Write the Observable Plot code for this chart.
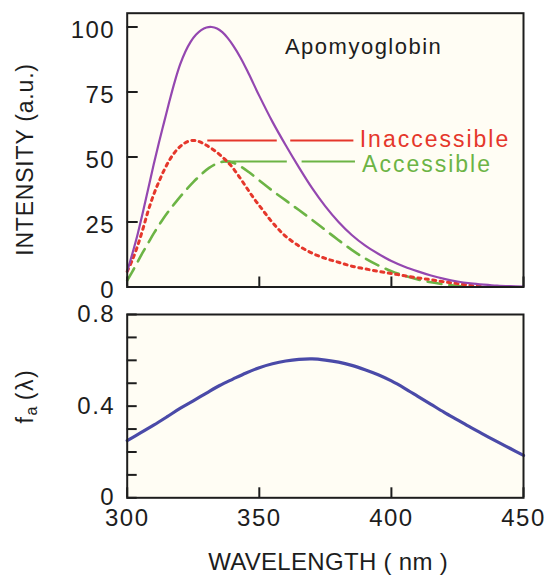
<!DOCTYPE html>
<html>
<head>
<meta charset="utf-8">
<script src="https://cdn.jsdelivr.net/npm/d3@7"></script>
<script src="https://cdn.jsdelivr.net/npm/@observablehq/plot@0.6"></script>
<style>
  html, body { margin: 0; padding: 0; background: #ffffff; }
  #chart { position: relative; width: 545px; height: 575px; }
  #chart svg { position: absolute; left: 0; display: block; }
</style>
</head>
<body>
<div id="chart"></div>
<script>
// ---------- data ----------
const totalWavelength = [300,302,304,306,308,310,312,314,316,318,320,322,324,326,328,330,332,334,336,338,340,343,346,350,355,360,365,370,375,380,385,390,395,400,405,410,415,420,425,430,435,440,445,450];
const totalIntensity  = [6,13,20.5,29,38,47,55.5,63.5,71.5,79,85.5,90.5,94.3,97,98.8,99.8,100,99.4,98,95.8,93,88,82,73.5,63.5,54.5,46,38,31,25,20,16,12.8,10,7.8,6,4.4,3.1,2.1,1.4,0.9,0.5,0.3,0.2];

const inaccWavelength = [300,302,304,306,308,310,312,314,316,318,320,322,324,326,328,330,333,336,339,342,345,348,351,354,357,360,365,370,375,380,385,390,395,400,405,410,415,420,425,430,434];
const inaccIntensity  = [6,10.5,16,22.5,29.5,35.5,40.5,45,48.8,51.8,54,55.5,56.3,56.3,55.6,54.5,52.5,50,47,43,38.5,34,30,26,22.5,19.5,15.8,13,11,9.5,8,7,6,5.2,4.3,3.5,2.8,2,1.3,0.6,0.2];

const accWavelength = [300,302,304,306,308,310,313,316,319,322,325,328,331,334,337,340,343,346,350,355,360,365,370,375,380,385,390,395,400,405,410,415,420,425,430];
const accIntensity  = [2.5,6,9.8,13.5,17,20.5,25.3,29.6,33.4,37,40.3,43.3,45.8,47.5,48.3,47.8,46.3,44.2,41,37,33.3,29.6,25.8,21.9,18,14.3,11,8.3,6.1,4.3,2.9,1.8,1,0.4,0.1];

const faWavelength = [300,305,310,315,320,325,330,335,340,345,350,355,360,365,370,375,380,385,390,395,400,405,410,415,420,425,430,435,440,445,450];
const faValue      = [0.25,0.283,0.317,0.353,0.39,0.423,0.457,0.49,0.518,0.545,0.568,0.585,0.597,0.604,0.606,0.601,0.592,0.578,0.559,0.537,0.51,0.478,0.443,0.408,0.373,0.34,0.307,0.276,0.245,0.215,0.185];

// legend leaders (label, level, segments)
const leaderNames   = ["Inaccessible", "Accessible"];
const leaderLevel   = [56.3, 48.3];
const leaderSegFrom = [[330.5, 361.9], [337, 366.2]];
const leaderSegTo   = [[356.8, 385.8], [360.6, 386.4]];
const leaderTextAt  = [388, 388.9];
const leaderTextY   = [56.8, 47.2];

const titleText = "Apomyoglobin";
const titleAt = [359.7, 92.3];

const xTicks = [300, 350, 400, 450];
const intensityTicks = [0, 25, 50, 75, 100];
const faMinorTicks = [0, 0.1, 0.2, 0.3, 0.4, 0.5, 0.6, 0.7, 0.8];
const faLabelTicks = [0, 0.4, 0.8];

const yLabelTop = "INTENSITY (a.u.)";
const yLabelBottomMain = "f";
const yLabelBottomSub = "a";
const yLabelBottomTail = "(\u03bb)";
const xLabel = "WAVELENGTH ( nm )";

// ---------- styling ----------
const FONT = '"Liberation Sans", Arial, sans-serif';
const ink = "#1d1d1d";
const panelBg = "#fffdf4";
const purple = "#9447b0";
const red = "#e5372b";
const green = "#6cb445";
const blue = "#4a4aa8";

const rows = (xs, ys) => xs.map((x, i) => ({x, y: ys[i]}));
const totalRows = rows(totalWavelength, totalIntensity);
const inaccRows = rows(inaccWavelength, inaccIntensity);
const accRows = rows(accWavelength, accIntensity);
const faRows = rows(faWavelength, faValue);
const leaderSegs = leaderNames.flatMap((n, i) => leaderSegFrom[i].map((x1, j) => ({name: n, x1, x2: leaderSegTo[i][j], y: leaderLevel[i]})));
const leaderTexts = leaderNames.map((n, i) => ({name: n, x: leaderTextAt[i], y: leaderTextY[i]}));
const colorOf = n => n === "Inaccessible" ? red : green;

const W = 545;
const ML = 126.7, MR = 22;

const topPlot = Plot.plot({
  width: W, height: 300,
  marginLeft: ML, marginRight: MR, marginTop: 12.7, marginBottom: 13.5,
  style: {fontFamily: FONT, fontSize: "24px", color: ink, background: "transparent", overflow: "visible"},
  x: {domain: [300, 450], axis: null},
  y: {domain: [0, 105.3], axis: null},
  marks: [
    Plot.frame({fill: panelBg, stroke: null}),
    Plot.ruleY(leaderSegs, {x1: "x1", x2: "x2", y: "y", stroke: d => colorOf(d.name), strokeWidth: 2}),
    Plot.line(accRows, {x: "x", y: "y", stroke: green, strokeWidth: 2.6, strokeDasharray: "14 8", curve: "catmull-rom"}),
    Plot.line(inaccRows, {x: "x", y: "y", stroke: red, strokeWidth: 3, strokeDasharray: "3 4.5", curve: "catmull-rom"}),
    Plot.line(totalRows, {x: "x", y: "y", stroke: purple, strokeWidth: 2.2, curve: "catmull-rom"}),
    Plot.axisY({ticks: intensityTicks, anchor: "left", tickSize: 11, dx: 11, fill: "none", stroke: ink, strokeWidth: 2, label: null}),
    Plot.axisY({ticks: intensityTicks, anchor: "left", tickSize: 0, tickPadding: 12, dy: 3, stroke: "none", fill: ink, fontSize: 24, label: null}),
    Plot.axisX({ticks: xTicks, anchor: "bottom", tickSize: 10, dy: -10, fill: "none", stroke: ink, strokeWidth: 2, label: null}),
    Plot.frame({stroke: ink, strokeWidth: 2}),
    Plot.text(leaderTexts, {x: "x", y: "y", text: "name", fill: d => colorOf(d.name), fontSize: 23, textAnchor: "start", lineAnchor: "middle"}),
    Plot.text([titleText], {x: () => titleAt[0], y: () => titleAt[1], text: d => d, fill: ink, fontSize: 22, textAnchor: "start", lineAnchor: "middle"}),
    Plot.text([yLabelTop], {frameAnchor: "left", dx: -101.7, dy: 9.4, rotate: -90, text: d => d, fill: ink, fontSize: 23, lineAnchor: "middle", textAnchor: "middle"})
  ]
});

const bottomPlot = Plot.plot({
  width: W, height: 275,
  marginLeft: ML, marginRight: MR, marginTop: 14, marginBottom: 77.7,
  style: {fontFamily: FONT, fontSize: "24px", color: ink, background: "transparent", overflow: "visible"},
  x: {domain: [300, 450], axis: null},
  y: {domain: [0, 0.8], axis: null},
  marks: [
    Plot.frame({fill: panelBg, stroke: null}),
    Plot.line(faRows, {x: "x", y: "y", stroke: blue, strokeWidth: 3.2, curve: "catmull-rom"}),
    Plot.axisY({ticks: faMinorTicks, anchor: "left", tickSize: 10, dx: 10, fill: "none", stroke: ink, strokeWidth: 2, label: null}),
    Plot.axisY({ticks: faLabelTicks, anchor: "left", tickSize: 0, tickPadding: 12, dy: 0, stroke: "none", fill: ink, fontSize: 24, label: null, tickFormat: d => d === 0 ? "0" : d.toFixed(1)}),
    Plot.axisX({ticks: xTicks, anchor: "bottom", tickSize: 10, dy: -10, fill: "none", stroke: ink, strokeWidth: 2, label: null}),
    Plot.axisX({ticks: xTicks, anchor: "bottom", tickSize: 0, tickPadding: 10.7, stroke: "none", fill: ink, fontSize: 24, label: null, tickFormat: d => String(d)}),
    Plot.frame({stroke: ink, strokeWidth: 2}),
    Plot.text([yLabelBottomMain], {frameAnchor: "left", dx: -101.2, dy: -10, rotate: -90, text: d => d, fill: ink, fontSize: 23, lineAnchor: "middle", textAnchor: "middle"}),
    Plot.text([xLabel], {frameAnchor: "bottom", dx: 2.7, dy: 72, text: d => d, fill: ink, fontSize: 24, lineAnchor: "bottom", textAnchor: "middle"})
  ]
});

const chart = document.getElementById("chart");
topPlot.style.top = "0px";
bottomPlot.style.top = "300px";
chart.appendChild(topPlot);
chart.appendChild(bottomPlot);

// f_a(λ) label: subscript "a" and the "(λ)" tail as tspans of the same text
d3.select(bottomPlot).selectAll("text").filter(function () { return this.textContent === yLabelBottomMain; })
  .each(function () {
    const t = d3.select(this);
    t.append("tspan").attr("font-size", 16).attr("dy", "0.2em").text(yLabelBottomSub);
    t.append("tspan").attr("dy", "-0.14em").attr("dx", 5).text(yLabelBottomTail);
  });

// letter spacing to mimic the technical lettering
const spacing = {"INTENSITY (a.u.)": 0.8, "WAVELENGTH ( nm )": 0.3, "Inaccessible": 2, "Accessible": 2, "Apomyoglobin": 1.5};
spacing[yLabelBottomMain + yLabelBottomSub + yLabelBottomTail] = 1.5;
d3.selectAll("#chart svg text").each(function () {
  const t = this.textContent;
  const s = spacing[t] !== undefined ? spacing[t] : 1.5;
  this.setAttribute("letter-spacing", s + "px");
});
</script>
</body>
</html>
